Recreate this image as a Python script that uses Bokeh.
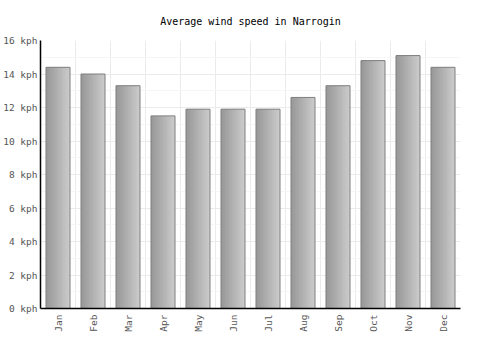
from bokeh.plotting import figure
from bokeh.models import ColumnDataSource, FixedTicker, Range1d
from bokeh.transform import dodge
from bokeh.embed import file_html
from bokeh.resources import INLINE

months = ["Jan", "Feb", "Mar", "Apr", "May", "Jun", "Jul", "Aug", "Sep", "Oct", "Nov", "Dec"]
speeds = [14.4, 14.0, 13.3, 11.5, 11.9, 11.9, 11.9, 12.6, 13.3, 14.8, 15.1, 14.4]
y_ticks = [0, 2, 4, 6, 8, 10, 12, 14, 16]
unit = "kph"
title = "Average wind speed in Narrogin"

pos = list(range(1, len(months) + 1))
src = ColumnDataSource(dict(x=pos, top=speeds, month=months))

FONT = "DejaVu Sans Mono"
p = figure(width=500, height=350, output_backend="svg", toolbar_location=None,
           x_range=Range1d(0.5, len(months) + 0.5), y_range=Range1d(0, 16),
           min_border_left=40, min_border_right=40, min_border_top=40, min_border_bottom=42,
           title=title)
p.outline_line_color = None
p.background_fill_color = "white"
p.border_fill_color = "white"

p.title.align = "center"
p.title.text_font = FONT
p.title.text_font_size = "10px"
p.title.text_font_style = "normal"
p.title.text_color = "#000000"
p.title.standoff = 27

# gradient bars made of thin slices
BW = 0.686
N = 18
sw = BW / N
for i in range(N):
    t = i / (N - 1)
    c = int(0x98 + t * (0xcc - 0x98))
    col = "#%02x%02x%02x" % (c, c, c)
    off = -BW / 2 + sw * (i + 0.5)
    w = sw * 1.6 if i < N - 1 else sw
    p.vbar(x=dodge("x", off + (w - sw) / 2), top="top", bottom=0, width=w, source=src,
           fill_color=col, line_color=None)
p.vbar(x="x", top="top", bottom=0, width=BW, source=src, fill_color=None,
       line_color="#7f7f7f", line_width=1)

# axes
p.yaxis.ticker = FixedTicker(ticks=y_ticks, minor_ticks=list(range(0, 17)))
p.yaxis.major_label_overrides = {v: f"{v} {unit}" for v in y_ticks}
p.xaxis.ticker = FixedTicker(ticks=pos)
p.xaxis.major_label_overrides = {x: m for x, m in zip(pos, months)}
p.xaxis.major_label_orientation = 3.14159265 / 2
for ax in (p.xaxis, p.yaxis):
    ax.axis_line_color = "#000000"
    ax.axis_line_width = 1.5
    ax.major_tick_line_color = None
    ax.minor_tick_line_color = None
    ax.major_tick_out = 0
    ax.major_tick_in = 0
    ax.minor_tick_out = 0
    ax.minor_tick_in = 0
    ax.major_label_text_font = FONT
    ax.major_label_text_font_size = "9.5px"
    ax.major_label_text_color = "#555555"
p.yaxis.major_label_standoff = 3
p.xaxis.major_label_standoff = 6

p.xgrid.ticker = FixedTicker(ticks=[x + 0.5 for x in pos])
p.xgrid.grid_line_color = "#ebebeb"
p.ygrid.grid_line_color = "#ebebeb"
p.ygrid.minor_grid_line_color = "#f6f6f6"

open("out.html", "w").write(file_html(p, INLINE))
